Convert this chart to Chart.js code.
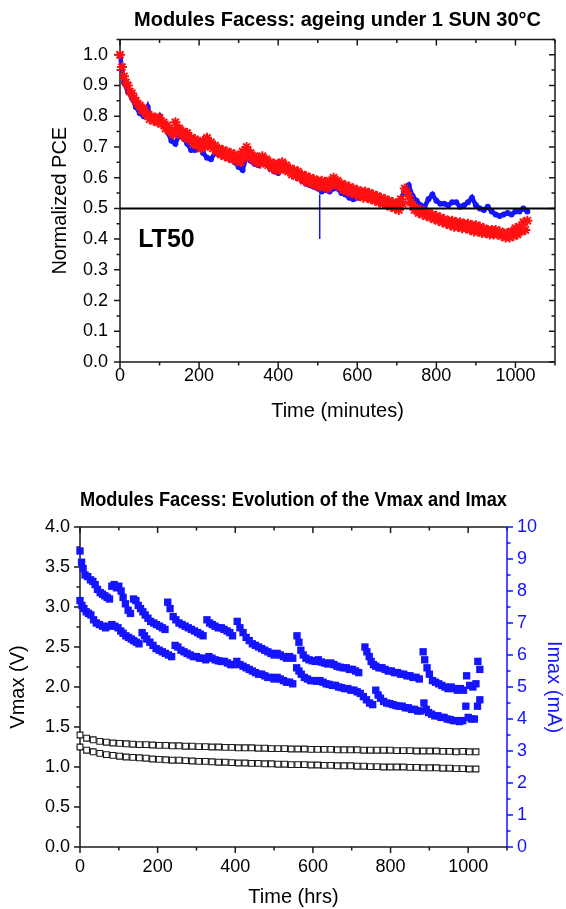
<!DOCTYPE html>
<html>
<head>
<meta charset="utf-8">
<script src="https://cdn.jsdelivr.net/npm/chart.js@4.4.1/dist/chart.umd.min.js"></script>
<style>
  html, body { margin: 0; padding: 0; background: #fff; }
  body { width: 566px; height: 909px; position: relative; overflow: hidden; }
  .panel { position: absolute; left: 0; }
  .panel canvas { display: block; }
  #pce-wrap { top: 0; }
  #iv-wrap { top: 470px; }
</style>
</head>
<body>
<div class="panel" id="pce-wrap"><canvas id="chart-pce" width="566" height="445"></canvas></div>
<div class="panel" id="iv-wrap"><canvas id="chart-iv" width="566" height="439"></canvas></div>
<script>
// ==================== DATA ====================
// Normalized PCE, sampled every BLUE_STEP / RED_STEP minutes
const BLUE_STEP = 10;
const RED_STEP = 5;
const pceBlue = [
  1.00, 0.91, 0.88, 0.86, 0.83, 0.81, 0.80, 0.83, 0.79, 0.78,
  0.80, 0.77, 0.75, 0.72, 0.71, 0.74, 0.73, 0.71, 0.69, 0.69,
  0.70, 0.68, 0.665, 0.66, 0.68, 0.675, 0.67, 0.665, 0.66, 0.65,
  0.635, 0.625, 0.67, 0.655, 0.645, 0.64, 0.66, 0.645, 0.63, 0.62,
  0.615, 0.635, 0.63, 0.62, 0.61, 0.60, 0.59, 0.58, 0.575, 0.57,
  0.565, 0.555, 0.56, 0.555, 0.565, 0.565, 0.55, 0.545, 0.535, 0.53,
  0.535, 0.54, 0.535, 0.53, 0.53, 0.525, 0.52, 0.515, 0.515, 0.51,
  0.52, 0.53, 0.56, 0.575, 0.54, 0.525, 0.51, 0.505, 0.53, 0.545,
  0.525, 0.515, 0.515, 0.51, 0.52, 0.52, 0.505, 0.51, 0.52, 0.535,
  0.51, 0.50, 0.495, 0.505, 0.49, 0.48, 0.475, 0.48, 0.485, 0.48,
  0.49, 0.49, 0.50, 0.49,
];
const pceRed = [
  1.00, 0.96, 0.93, 0.91, 0.90, 0.88, 0.875, 0.86, 0.85, 0.84,
  0.835, 0.82, 0.825, 0.81, 0.805, 0.79, 0.80, 0.785, 0.795, 0.78,
  0.795, 0.775, 0.78, 0.76, 0.77, 0.75, 0.755, 0.74, 0.78, 0.76,
  0.76, 0.74, 0.75, 0.73, 0.745, 0.725, 0.73, 0.71, 0.725, 0.705,
  0.715, 0.695, 0.72, 0.70, 0.73, 0.71, 0.715, 0.695, 0.705, 0.685,
  0.695, 0.675, 0.69, 0.67, 0.685, 0.665, 0.68, 0.66, 0.675, 0.655,
  0.67, 0.65, 0.685, 0.665, 0.70, 0.68, 0.68, 0.66, 0.67, 0.65,
  0.665, 0.645, 0.67, 0.65, 0.66, 0.64, 0.65, 0.63, 0.645, 0.625,
  0.645, 0.625, 0.65, 0.63, 0.64, 0.62, 0.63, 0.61, 0.625, 0.605,
  0.62, 0.60, 0.61, 0.59, 0.605, 0.585, 0.60, 0.58, 0.595, 0.575,
  0.59, 0.57, 0.59, 0.57, 0.585, 0.565, 0.59, 0.575, 0.60, 0.58,
  0.59, 0.57, 0.58, 0.56, 0.575, 0.555, 0.57, 0.55, 0.565, 0.545,
  0.56, 0.54, 0.555, 0.535, 0.555, 0.535, 0.55, 0.53, 0.545, 0.525,
  0.54, 0.52, 0.535, 0.515, 0.53, 0.51, 0.525, 0.505, 0.52, 0.50,
  0.515, 0.495, 0.53, 0.515, 0.565, 0.55, 0.54, 0.52, 0.51, 0.495,
  0.50, 0.485, 0.495, 0.48, 0.49, 0.475, 0.485, 0.47, 0.48, 0.465,
  0.475, 0.46, 0.47, 0.455, 0.465, 0.45, 0.46, 0.445, 0.46, 0.44,
  0.455, 0.44, 0.455, 0.435, 0.45, 0.435, 0.45, 0.43, 0.445, 0.425,
  0.445, 0.425, 0.44, 0.42, 0.435, 0.42, 0.43, 0.415, 0.43, 0.415,
  0.43, 0.415, 0.425, 0.41, 0.42, 0.405, 0.42, 0.405, 0.425, 0.41,
  0.435, 0.415, 0.44, 0.425, 0.455, 0.43, 0.46,
];
const LT50_LEVEL = 0.5;
const lt50Minutes = 505;
const lt50Drop = [0.545, 0.40];

// Vmax (V), sampled every VMAX_STEP hours
const VMAX_STEP = 17;
const vmaxUpper = [
  1.40, 1.36, 1.34, 1.32, 1.31, 1.30, 1.295, 1.29, 1.285, 1.28,
  1.28, 1.275, 1.27, 1.27, 1.265, 1.265, 1.26, 1.26, 1.255, 1.255,
  1.25, 1.25, 1.245, 1.245, 1.24, 1.24, 1.24, 1.235, 1.235, 1.23,
  1.23, 1.23, 1.225, 1.225, 1.225, 1.22, 1.22, 1.22, 1.22, 1.215,
  1.215, 1.215, 1.215, 1.21, 1.21, 1.21, 1.21, 1.21, 1.205, 1.205,
  1.205, 1.20, 1.20, 1.20, 1.20, 1.195, 1.195, 1.19, 1.195, 1.19,
  1.19,
];
const vmaxLower = [
  1.25, 1.21, 1.19, 1.17, 1.155, 1.145, 1.135, 1.125, 1.12, 1.115,
  1.11, 1.10, 1.095, 1.09, 1.085, 1.085, 1.08, 1.075, 1.07, 1.07,
  1.065, 1.06, 1.06, 1.055, 1.05, 1.05, 1.045, 1.045, 1.04, 1.04,
  1.035, 1.035, 1.03, 1.03, 1.03, 1.025, 1.025, 1.02, 1.02, 1.015,
  1.015, 1.015, 1.01, 1.01, 1.005, 1.005, 1.0, 1.0, 1.0, 1.0,
  0.995, 0.995, 0.99, 0.99, 0.99, 0.985, 0.985, 0.98, 0.98, 0.975,
  0.975,
];

// Imax (mA) for the two modules
const imaxUpperHours = [
  0, 4, 8, 13, 20, 27, 33, 39, 45, 52, 58, 64, 70, 76, 82, 88, 94, 100, 106, 111,
  117, 124, 130, 138, 144, 150, 156, 162, 168, 175, 182, 190, 197, 205, 212, 219, 226, 232, 240, 247,
  255, 263, 271, 279, 287, 295, 303, 310, 317, 327, 334, 341, 348, 356, 364, 371, 379, 386, 393, 405,
  412, 420, 428, 436, 444, 452, 460, 468, 476, 484, 492, 500, 508, 516, 524, 532, 540, 548, 559, 564,
  569, 575, 582, 590, 598, 606, 614, 622, 630, 638, 646, 654, 662, 670, 678, 686, 694, 702, 710, 718,
  734, 739, 745, 750, 756, 762, 770, 778, 786, 794, 802, 810, 818, 826, 834, 842, 850, 858, 866, 874,
  884, 888, 894, 900, 908, 916, 924, 932, 940, 948, 956, 964, 972, 980, 988, 996, 1004, 1012, 1020, 1025,
  1030,
];
const imaxUpper = [
  9.25, 8.9, 8.7, 8.5, 8.45, 8.35, 8.3, 8.2, 8.05, 7.95, 7.9, 7.85, 7.8, 7.75, 8.15, 8.2, 8.1, 8.15, 8.0, 7.8,
  7.6, 7.4, 7.3, 7.75, 7.7, 7.55, 7.45, 7.35, 7.25, 7.15, 7.05, 7.0, 6.95, 6.9, 6.85, 6.8, 7.65, 7.45, 7.2, 7.1,
  7.0, 6.95, 6.9, 6.85, 6.8, 6.75, 6.7, 6.65, 6.6, 7.1, 7.0, 6.95, 6.9, 6.85, 6.85, 6.8, 6.75, 6.7, 6.6, 7.05,
  6.85, 6.7, 6.55, 6.45, 6.35, 6.3, 6.25, 6.2, 6.15, 6.1, 6.05, 6.0, 6.05, 6.0, 5.95, 5.9, 5.95, 5.9, 6.6, 6.4,
  6.15, 6.0, 5.9, 5.85, 5.82, 5.8, 5.85, 5.78, 5.75, 5.72, 5.75, 5.7, 5.65, 5.62, 5.6, 5.6, 5.55, 5.55, 5.5, 5.45,
  6.25, 6.1, 5.95, 5.8, 5.7, 5.65, 5.6, 5.6, 5.55, 5.5, 5.5, 5.45, 5.45, 5.4, 5.4, 5.35, 5.35, 5.3, 5.3, 5.25,
  6.1, 5.85, 5.6, 5.4, 5.2, 5.15, 5.1, 5.05, 5.0, 4.95, 5.0, 4.95, 4.9, 4.95, 4.9, 5.35, 5.05, 5.0, 5.1, 5.8,
  5.55,
];
const imaxLowerHours = [
  0, 5, 10, 16, 22, 28, 35, 42, 50, 58, 66, 74, 82, 90, 98, 105, 111, 118, 125, 132,
  138, 145, 152, 160, 166, 172, 180, 188, 196, 204, 212, 220, 228, 236, 245, 252, 260, 268, 276, 284,
  292, 300, 308, 316, 324, 332, 340, 348, 356, 364, 372, 380, 388, 396, 404, 412, 420, 428, 436, 444,
  452, 460, 468, 476, 484, 492, 500, 508, 516, 524, 532, 540, 548, 558, 564, 570, 578, 586, 594, 602,
  610, 618, 626, 634, 642, 650, 658, 666, 674, 682, 690, 698, 706, 714, 722, 730, 738, 746, 754, 762,
  768, 774, 782, 790, 798, 806, 814, 822, 830, 838, 846, 854, 862, 870, 878, 886, 892, 898, 906, 914,
  922, 930, 938, 946, 954, 962, 970, 978, 986, 994, 1000, 1008, 1016, 1024, 1030,
];
const imaxLower = [
  7.7, 7.55, 7.45, 7.35, 7.3, 7.25, 7.1, 7.0, 6.95, 6.9, 6.85, 6.9, 6.95, 6.9, 6.85, 6.75, 6.68, 6.6, 6.55, 6.5,
  6.45, 6.4, 6.35, 6.7, 6.6, 6.5, 6.4, 6.3, 6.2, 6.15, 6.1, 6.05, 6.0, 5.95, 6.3, 6.25, 6.15, 6.1, 6.05, 6.0,
  5.95, 5.95, 5.9, 5.9, 5.85, 5.95, 5.9, 5.85, 5.82, 5.8, 5.8, 5.75, 5.7, 5.7, 5.8, 5.7, 5.65, 5.6, 5.55, 5.5,
  5.45, 5.4, 5.4, 5.35, 5.3, 5.3, 5.25, 5.3, 5.25, 5.2, 5.15, 5.15, 5.1, 5.6, 5.5, 5.4, 5.3, 5.25, 5.2, 5.2,
  5.18, 5.2, 5.15, 5.1, 5.08, 5.05, 5.05, 5.0, 4.98, 4.95, 4.95, 4.9, 4.9, 4.85, 4.8, 4.7, 4.6, 4.5, 4.45, 4.9,
  4.75, 4.65, 4.55, 4.5, 4.48, 4.45, 4.42, 4.4, 4.4, 4.35, 4.35, 4.3, 4.3, 4.25, 4.25, 4.5, 4.3, 4.2, 4.15, 4.1,
  4.1, 4.05, 4.05, 4.0, 3.98, 3.95, 3.95, 3.92, 3.95, 4.4, 4.05, 4.0, 4.0, 4.4, 4.6,
];

// ==================== HELPERS ====================
const FONT = '"Liberation Sans", Arial, sans-serif';
const BLUE = '#1414ff';
const RED = '#ff1010';
const INK = '#1a1a1a';

const stepped = (values, step) => values.map((y, i) => ({ x: i * step, y }));
const paired = (xs, ys) => ys.map((y, i) => ({ x: xs[i], y }));

// frame + Origin-style tick marks (outward on labelled sides, inward on mirrors)
const frameTicks = {
  id: 'frameTicks',
  beforeDatasetsDraw(chart, args, opts) {
    const { ctx, chartArea: a } = chart;
    ctx.save();
    ctx.lineWidth = 1.5;
    (opts.axes || []).forEach((ax) => {
      const scale = chart.scales[ax.id];
      const n = Math.round((scale.max - scale.min) / ax.minor);
      ctx.strokeStyle = ax.color || INK;
      ctx.beginPath();
      ax.sides.forEach(([side, out]) => {
        const horiz = side === 'top' || side === 'bottom';
        const edge = { top: a.top, bottom: a.bottom, left: a.left, right: a.right }[side];
        const sign = (side === 'bottom' || side === 'right' ? 1 : -1) * (out ? 1 : -1);
        if (horiz) {
          ctx.moveTo(a.left, edge);
          ctx.lineTo(a.right, edge);
        } else {
          ctx.moveTo(edge, a.top);
          ctx.lineTo(edge, a.bottom);
        }
        for (let i = 0; i <= n; i++) {
          const v = scale.min + i * ax.minor;
          const r = v / ax.major;
          const len = Math.abs(r - Math.round(r)) < 1e-6 ? 6 : 3.5;
          const p = scale.getPixelForValue(v);
          if (horiz) {
            ctx.moveTo(p, edge);
            ctx.lineTo(p, edge + sign * len);
          } else {
            ctx.moveTo(edge, p);
            ctx.lineTo(edge + sign * len, p);
          }
        }
      });
      ctx.stroke();
    });
    ctx.restore();
  },
};

const lt50Label = {
  id: 'lt50Label',
  afterDatasetsDraw(chart, args, opts) {
    if (!opts.text) return;
    const { ctx, scales } = chart;
    ctx.save();
    ctx.font = `bold 25px ${FONT}`;
    ctx.fillStyle = '#000';
    ctx.textAlign = 'left';
    ctx.textBaseline = 'middle';
    ctx.fillText(opts.text, scales.x.getPixelForValue(opts.x), scales.y.getPixelForValue(opts.y));
    ctx.restore();
  },
};

Chart.register(frameTicks, lt50Label);
Chart.defaults.font.family = FONT;
Chart.defaults.color = '#000';

const tickFont = { size: 18 };
const titleFont = { size: 20 };
const noGrid = { display: false, drawTicks: false, tickLength: 0 };
const plain = (v) => String(v);

// ==================== PCE AGEING ====================
new Chart(document.getElementById('chart-pce').getContext('2d'), {
  type: 'scatter',
  data: {
    datasets: [
      {
        label: 'LT50',
        data: [{ x: 0, y: LT50_LEVEL }, { x: 1100, y: LT50_LEVEL }],
        showLine: true,
        borderColor: '#000',
        borderWidth: 2,
        pointRadius: 0,
      },
      {
        label: 'LT50 time',
        data: lt50Drop.map((y) => ({ x: lt50Minutes, y })),
        showLine: true,
        borderColor: BLUE,
        borderWidth: 1.5,
        pointRadius: 0,
      },
      {
        label: 'Module B',
        data: stepped(pceRed, RED_STEP),
        pointStyle: 'star',
        pointRadius: 5,
        borderColor: RED,
        borderWidth: 2,
        backgroundColor: RED,
      },
      {
        label: 'Module A',
        data: stepped(pceBlue, BLUE_STEP),
        showLine: true,
        borderColor: BLUE,
        borderWidth: 4.5,
        pointStyle: 'circle',
        pointRadius: 3,
        pointBorderWidth: 0,
        backgroundColor: BLUE,
      },
    ],
  },
  options: {
    responsive: false,
    animation: false,
    clip: false,
    layout: { padding: { left: 0, right: 11, top: 0, bottom: 0 } },
    plugins: {
      legend: { display: false },
      tooltip: { enabled: false },
      title: {
        display: true,
        text: 'Modules Facess: ageing under 1 SUN 30°C',
        fullSize: false,
        font: { size: 20, weight: 'bold' },
        color: '#000',
        padding: { top: 8, bottom: 7.4 },
      },
      frameTicks: {
        axes: [
          { id: 'x', major: 200, minor: 100, sides: [['bottom', true], ['top', false]] },
          { id: 'y', major: 0.1, minor: 0.05, sides: [['left', true], ['right', false]] },
        ],
      },
      lt50Label: { text: 'LT50', x: 46, y: 0.397 },
    },
    scales: {
      x: {
        type: 'linear',
        min: 0,
        max: 1100,
        grid: noGrid,
        border: { display: false },
        ticks: { stepSize: 200, includeBounds: false, font: tickFont, padding: 3, maxRotation: 0, callback: plain },
        title: { display: true, text: 'Time (minutes)', font: titleFont, padding: { top: 0, bottom: 22 } },
        afterFit: (s) => { s.height = 83; },
      },
      y: {
        min: 0,
        max: 1.05,
        grid: noGrid,
        border: { display: false },
        ticks: { stepSize: 0.1, includeBounds: false, font: tickFont, padding: 12, callback: (v) => v.toFixed(1) },
        title: { display: true, text: 'Normalized PCE', font: titleFont, padding: { top: 48, bottom: 0 } },
        afterFit: (s) => { s.width = 120; },
      },
    },
  },
});

// ==================== VMAX / IMAX ====================
new Chart(document.getElementById('chart-iv').getContext('2d'), {
  type: 'scatter',
  data: {
    datasets: [
      {
        label: 'Vmax A',
        data: stepped(vmaxUpper, VMAX_STEP),
        yAxisID: 'y',
        pointStyle: 'rect',
        pointRadius: 4.1,
        borderColor: INK,
        borderWidth: 1.1,
        backgroundColor: '#fff',
      },
      {
        label: 'Vmax B',
        data: stepped(vmaxLower, VMAX_STEP),
        yAxisID: 'y',
        pointStyle: 'rect',
        pointRadius: 4.1,
        borderColor: INK,
        borderWidth: 1.1,
        backgroundColor: '#fff',
      },
      {
        label: 'Imax A',
        data: paired(imaxUpperHours, imaxUpper),
        yAxisID: 'y2',
        pointStyle: 'rect',
        pointRadius: 5.2,
        borderWidth: 0,
        backgroundColor: BLUE,
      },
      {
        label: 'Imax B',
        data: paired(imaxLowerHours, imaxLower),
        yAxisID: 'y2',
        pointStyle: 'rect',
        pointRadius: 5.2,
        borderWidth: 0,
        backgroundColor: BLUE,
      },
    ],
  },
  options: {
    responsive: false,
    animation: false,
    clip: false,
    layout: { padding: 0 },
    plugins: {
      legend: { display: false },
      tooltip: { enabled: false },
      title: {
        display: true,
        text: 'Modules Facess: Evolution of the Vmax and Imax',
        fullSize: false,
        font: { size: 20, weight: 'bold' },
        color: '#000',
        padding: { top: 18, bottom: 15 },
      },
      frameTicks: {
        axes: [
          { id: 'x', major: 200, minor: 100, sides: [['bottom', true], ['top', false]] },
          { id: 'y', major: 0.5, minor: 0.25, sides: [['left', true]] },
          { id: 'y2', major: 1, minor: 0.5, sides: [['right', true]], color: BLUE },
        ],
      },
    },
    scales: {
      x: {
        type: 'linear',
        min: 0,
        max: 1100,
        grid: noGrid,
        border: { display: false },
        ticks: { stepSize: 200, includeBounds: false, font: tickFont, padding: 9, maxRotation: 0, callback: plain },
        title: { display: true, text: 'Time (hrs)', font: titleFont, padding: { top: 0, bottom: 0 } },
        afterFit: (s) => { s.height = 62; },
      },
      y: {
        position: 'left',
        min: 0,
        max: 4,
        grid: noGrid,
        border: { display: false },
        ticks: { stepSize: 0.5, font: tickFont, padding: 10, callback: (v) => v.toFixed(1) },
        title: { display: true, text: 'Vmax (V)', font: titleFont, padding: { top: 6, bottom: 0 } },
        afterFit: (s) => { s.width = 80; },
      },
      y2: {
        position: 'right',
        min: 0,
        max: 10,
        grid: noGrid,
        border: { display: false },
        ticks: { stepSize: 1, font: tickFont, padding: 10, color: BLUE, callback: plain },
        title: { display: true, text: 'Imax (mA)', font: titleFont, color: BLUE, padding: { top: 0, bottom: 0 } },
        afterFit: (s) => { s.width = 59; },
      },
    },
  },
});
</script>
</body>
</html>
